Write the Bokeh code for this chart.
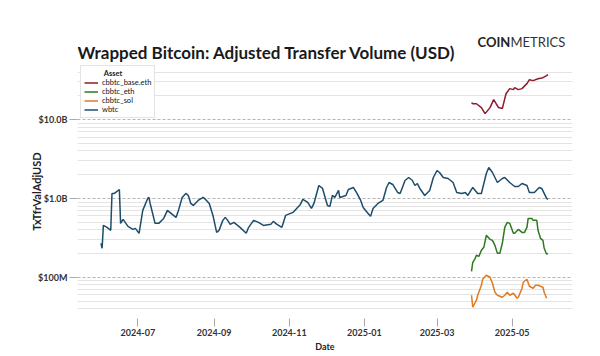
from datetime import datetime
import pandas as pd
from bokeh.plotting import figure
from bokeh.layouts import column
from bokeh.models import Range1d, FixedTicker, DatetimeTickFormatter, ColumnDataSource
from bokeh.core.properties import value
from bokeh.embed import file_html
from bokeh.resources import INLINE

# ---------------- data (values in millions of USD) ----------------
wbtc_dates = [
    "2024-06-01", "2024-06-02", "2024-06-03", "2024-06-06", "2024-06-09", "2024-06-10",
    "2024-06-12", "2024-06-16", "2024-06-17", "2024-06-19", "2024-06-23", "2024-06-27",
    "2024-06-29", "2024-07-02", "2024-07-05", "2024-07-09", "2024-07-10", "2024-07-11",
    "2024-07-15", "2024-07-18", "2024-07-22", "2024-07-25", "2024-07-28", "2024-08-01",
    "2024-08-03", "2024-08-06", "2024-08-09", "2024-08-11", "2024-08-13", "2024-08-15",
    "2024-08-19", "2024-08-23", "2024-08-25", "2024-08-28", "2024-08-31", "2024-09-03",
    "2024-09-05", "2024-09-08", "2024-09-10", "2024-09-12", "2024-09-14", "2024-09-17",
    "2024-09-20", "2024-09-22", "2024-09-27", "2024-09-29", "2024-10-03", "2024-10-07",
    "2024-10-11", "2024-10-17", "2024-10-19", "2024-10-22", "2024-10-26", "2024-10-29",
    "2024-11-02", "2024-11-04", "2024-11-07", "2024-11-10", "2024-11-12", "2024-11-16",
    "2024-11-19", "2024-11-21", "2024-11-25", "2024-11-28", "2024-12-02", "2024-12-04",
    "2024-12-06", "2024-12-08", "2024-12-11", "2024-12-12", "2024-12-17", "2024-12-19",
    "2024-12-23", "2024-12-26", "2024-12-29", "2024-12-31", "2025-01-04", "2025-01-06",
    "2025-01-08", "2025-01-12", "2025-01-16", "2025-01-19", "2025-01-21", "2025-01-24",
    "2025-01-28", "2025-01-30", "2025-02-03", "2025-02-06", "2025-02-09", "2025-02-11",
    "2025-02-13", "2025-02-15", "2025-02-19", "2025-02-23", "2025-02-26", "2025-03-01",
    "2025-03-03", "2025-03-06", "2025-03-10", "2025-03-14", "2025-03-17", "2025-03-21",
    "2025-03-24", "2025-03-26", "2025-03-30", "2025-04-01", "2025-04-03", "2025-04-06",
    "2025-04-10", "2025-04-12", "2025-04-15", "2025-04-19", "2025-04-23", "2025-04-25",
    "2025-04-29", "2025-05-03", "2025-05-06", "2025-05-09", "2025-05-13", "2025-05-15",
    "2025-05-19", "2025-05-23", "2025-05-25", "2025-05-27", "2025-05-29", "2025-05-30",
]
wbtc_values = [
    269, 233, 455, 430, 394, 1157,
    1157, 1300, 483, 542, 442, 405,
    417, 361, 705, 1000, 1030, 864,
    483, 483, 558, 705, 646, 575,
    705, 1030, 1157, 1091, 864, 815,
    943, 1030, 971, 864, 609, 371,
    394, 527, 575, 527, 469, 497,
    455, 430, 361, 430, 527, 497,
    455, 469, 512, 469, 430, 609,
    646, 665, 747, 839, 971, 890,
    747, 864, 1461, 1339, 815, 792,
    1091, 1030, 1263, 1030, 1091, 1300,
    1378, 1157, 943, 769, 646, 592,
    747, 864, 943, 1378, 1594, 1504,
    1191, 1157, 1690, 1844, 1690, 1461,
    1549, 1339, 1091, 1263, 1844, 2262,
    2134, 1844, 1791, 1594, 1191, 1157,
    1191, 1091, 1378, 1263, 1157, 1157,
    2072, 2469, 2134, 1594, 1791, 1844,
    1594, 1419, 1419, 1549, 1461, 1191,
    1191, 1378, 1339, 1157, 1000, 971,
]

base_dates = [
    "2025-03-29", "2025-03-30", "2025-04-02", "2025-04-06", "2025-04-09", "2025-04-13",
    "2025-04-16", "2025-04-18", "2025-04-20", "2025-04-23", "2025-04-26", "2025-04-29",
    "2025-05-02", "2025-05-03", "2025-05-06", "2025-05-09", "2025-05-13", "2025-05-15",
    "2025-05-18", "2025-05-22", "2025-05-26", "2025-05-29", "2025-05-30",
]
base_values = [
    16400, 15900, 15900, 14200, 11900, 14200,
    17900, 15900, 14200, 13800, 21300, 24700,
    24000, 25400, 24000, 24700, 28600, 32100,
    31200, 33000, 34000, 36100, 37100,
]

eth_dates = [
    "2025-03-29", "2025-03-30", "2025-04-01", "2025-04-02", "2025-04-04", "2025-04-06",
    "2025-04-08", "2025-04-10", "2025-04-13", "2025-04-15", "2025-04-17", "2025-04-19",
    "2025-04-21", "2025-04-23", "2025-04-25", "2025-04-27", "2025-04-29", "2025-05-02",
    "2025-05-03", "2025-05-06", "2025-05-09", "2025-05-11", "2025-05-13", "2025-05-14",
    "2025-05-17", "2025-05-18", "2025-05-21", "2025-05-22", "2025-05-24", "2025-05-26",
    "2025-05-27", "2025-05-29", "2025-05-30",
]
eth_values = [
    119, 155, 174, 190, 184, 220,
    240, 340, 303, 294, 254, 201,
    201, 270, 430, 497, 483, 361,
    361, 405, 371, 371, 430, 558,
    558, 527, 527, 394, 312, 294,
    233, 196, 201,
]

sol_dates = [
    "2025-03-29", "2025-03-30", "2025-04-02", "2025-04-03", "2025-04-06", "2025-04-07",
    "2025-04-10", "2025-04-13", "2025-04-15", "2025-04-17", "2025-04-19", "2025-04-23",
    "2025-04-25", "2025-04-27", "2025-04-29", "2025-05-02", "2025-05-05", "2025-05-06",
    "2025-05-09", "2025-05-10", "2025-05-13", "2025-05-15", "2025-05-18", "2025-05-20",
    "2025-05-22", "2025-05-26", "2025-05-27", "2025-05-29",
]
sol_values = [
    59.2, 41.7, 51.2, 59.2, 79.2, 94.3,
    106, 100, 83.9, 64.6, 59.2, 55.8,
    59.2, 64.6, 59.2, 62.7, 54.2, 55.8,
    72.6, 86.4, 94.3, 76.9, 72.6, 79.2,
    79.2, 74.7, 64.6, 54.2,
]

series_names = ["cbbtc_base.eth", "cbbtc_eth", "cbbtc_sol", "wbtc"]
series_colors = ["#8e1b2e", "#2d7a1f", "#e07a22", "#1c4d6b"]

x_tick_labels = ["2024-07", "2024-09", "2024-11", "2025-01", "2025-03", "2025-05"]
y_tick_values = [100_000_000, 1_000_000_000, 10_000_000_000]
y_tick_labels = ["$100M", "$1.0B", "$10.0B"]

title_text = "Wrapped Bitcoin: Adjusted Transfer Volume (USD)"
logo_bold = "COIN"
logo_light = "METRICS"

FONT = "Lato"
FRAME_L, FRAME_R = 77, 572

# ---------------- header (title + logo) ----------------
HEADER_H = 64
head = figure(width=600, height=HEADER_H, x_range=Range1d(FRAME_L, FRAME_R),
              y_range=Range1d(HEADER_H, 0),
              output_backend="svg", toolbar_location=None, min_border=0,
              background_fill_color="white", border_fill_color="white")
head.axis.visible = False
head.grid.visible = False
head.outline_line_color = None
head.text(x=[77], y=[52], text=[title_text], text_font=value(FONT), text_font_size="17px",
          text_font_style="bold", text_color="#1a1a1a", text_baseline="alphabetic")
head.text(x=[477], y=[41], text=[logo_bold], text_font=value(FONT), text_font_size="13px",
          text_font_style="bold", text_color="#222222", text_baseline="alphabetic")
head.text(x=[510], y=[41], text=[logo_light], text_font=value(FONT), text_font_size="13px",
          text_font_style="normal", text_color="#333333", text_baseline="alphabetic")

# ---------------- main chart ----------------
p = figure(
    width=600, height=356 - HEADER_H,
    x_axis_type="datetime", y_axis_type="log",
    x_range=Range1d(datetime(2024, 5, 13), datetime(2025, 6, 19)),
    y_range=Range1d(3e7, 5e10),
    output_backend="svg", toolbar_location=None,
    min_border_left=FRAME_L, min_border_right=600 - FRAME_R, min_border_top=0, min_border_bottom=38,
    background_fill_color="white", border_fill_color="white",
)
p.outline_line_color = None

all_data = [
    (base_dates, base_values),
    (eth_dates, eth_values),
    (sol_dates, sol_values),
    (wbtc_dates, wbtc_values),
]
for (d, v), name, color in zip(all_data, series_names, series_colors):
    src = ColumnDataSource(dict(x=pd.to_datetime(d), y=[val * 1e6 for val in v]))
    p.line("x", "y", source=src, line_color=color, line_width=1.5, legend_label=name)

# x axis
x_ticks = [pd.Timestamp(lbl + "-01").value // 10**6 for lbl in x_tick_labels]
p.xaxis.ticker = FixedTicker(ticks=x_ticks)
p.xaxis.formatter = DatetimeTickFormatter(
    months="%Y-%m", days="%Y-%m", years="%Y-%m", hours="%Y-%m",
)
p.xaxis.axis_label = "Date"
p.xaxis.axis_line_color = None
p.xaxis.major_tick_in = 0
p.xaxis.major_tick_out = 8
p.xaxis.major_tick_line_color = "#aaaaaa"
p.xaxis.minor_tick_line_color = None
p.xaxis.major_label_standoff = 2
p.xaxis.axis_label_standoff = 2
p.xgrid.grid_line_color = None

# y axis
minor = []
for dec in [1e7, 1e8, 1e9, 1e10]:
    for m in range(2, 10):
        val = m * dec
        if 3e7 <= val <= 5e10:
            minor.append(val)
p.yaxis.ticker = FixedTicker(ticks=y_tick_values, minor_ticks=minor)
p.yaxis.major_label_overrides = dict(zip(y_tick_values, y_tick_labels))
p.yaxis.axis_label = "TxTfrValAdjUSD"
p.yaxis.axis_line_color = None
p.yaxis.major_tick_in = 0
p.yaxis.major_tick_out = 8
p.yaxis.major_tick_line_color = "#aaaaaa"
p.yaxis.minor_tick_line_color = None
p.yaxis.major_label_standoff = 2
p.yaxis.axis_label_standoff = -8
p.ygrid.grid_line_color = "#b5b5b5"
p.ygrid.grid_line_dash = "3 2"
p.ygrid.grid_line_width = 1
p.ygrid.minor_grid_line_color = "#e4e4e4"
p.ygrid.minor_grid_line_width = 1

for ax in (p.xaxis, p.yaxis):
    ax.major_label_text_font = FONT
    ax.major_label_text_font_size = "9px"
    ax.major_label_text_font_style = "bold"
    ax.major_label_text_color = "#333333"
    ax.axis_label_text_font = FONT
    ax.axis_label_text_font_style = "bold"
    ax.axis_label_text_color = "#222222"
p.xaxis.axis_label_text_font_size = "9px"
p.yaxis.axis_label_text_font_size = "11px"

# legend
lg = p.legend[0]
lg.title = "\u00a0" * 11 + "Asset"
lg.location = (3, 200)
lg.title_text_font = FONT
lg.title_text_font_size = "7.5px"
lg.title_text_font_style = "bold"
lg.title_text_color = "#222222"
lg.title_standoff = 0
lg.label_text_font = FONT
lg.label_text_font_size = "7.5px"
lg.label_text_font_style = "normal"
lg.label_text_color = "#111111"
lg.label_height = 7
lg.glyph_height = 7
lg.glyph_width = 14
lg.label_standoff = 4
lg.spacing = 0
lg.padding = 3
lg.margin = 0
lg.border_line_color = "#c8c8c8"
lg.background_fill_alpha = 1

layout = column(head, p, spacing=0)
open("out.html", "w").write(file_html(layout, INLINE))
